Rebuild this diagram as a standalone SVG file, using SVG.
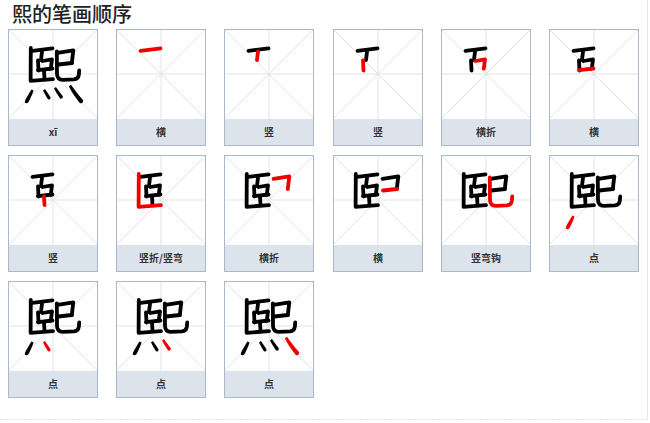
<svg xmlns="http://www.w3.org/2000/svg" xmlns:xlink="http://www.w3.org/1999/xlink" width="650" height="423" viewBox="0 0 650 423">
<style>
.title{font-family:"Noto Sans CJK SC","Noto Sans",sans-serif;font-size:20px;fill:#222;font-weight:500;}
.lbl{font-family:"Noto Sans CJK SC","Noto Sans",sans-serif;font-size:10px;fill:#333;text-anchor:middle;font-weight:700;}
.k{stroke:#000;fill:#000;}
.r{stroke:#ee0000;fill:#ee0000;}
.ln{fill:none;stroke-width:3.8;stroke-linecap:round;stroke-linejoin:round;}
.dt{stroke:none;}
</style>
<defs>
<g id="frame">
<rect x="0.5" y="0.5" width="89" height="116" fill="#fff" stroke="#a9b8cb"/>
<rect x="1" y="90" width="88" height="26" fill="#dde3ea"/>
<path d="M45,1V90 M1,45H89 M1,1L89,89 M89,1L1,89" stroke="#e3e3e3" stroke-width="1" fill="none"/>
</g>
<path id="s1" class="ln" d="M24.5,21.8 Q34,20.6 44.5,19.3"/>
<path id="s2" class="ln" d="M34,22.5 L33,31"/>
<path id="s3" class="ln" d="M30,31.5 L30.5,41.5"/>
<path id="s4" class="ln" d="M34.5,32 L44,30.3 L42.8,39.5"/>
<path id="s5" class="ln" d="M30,41.2 L44.5,39.5"/>
<path id="s6" class="ln" d="M36,41.5 L36.5,50"/>
<path id="s7" class="ln" d="M22.8,19 L22.6,51.8 L45,50.2"/>
<path id="s8" class="ln" d="M49.5,23.8 L65.3,21.3 L63.8,34"/>
<path id="s9" class="ln" d="M50,35.5 L64,34"/>
<path id="s10" class="ln" d="M48.8,22.5 L49,45 Q49.2,50.8 55,50.8 L66,50.3 Q70.2,50 70.8,46 L71.2,41.5"/>
<path id="s11" class="dt" d="M23.4,60.6 L25.6,61.6 C24.2,65.5 22.4,69.8 20.4,73.2 C19.3,75 16.2,74.4 16.9,72 C18.6,68.3 21.3,64.4 23.4,60.6 Z"/>
<path id="s12" class="dt" d="M35,61.4 L36.9,60 C38.7,62.4 40.8,65.4 42.3,67.9 C43.4,70 40.7,71.4 39.6,69.8 C38,67.1 36.4,64.1 35,61.4 Z"/>
<path id="s13" class="dt" d="M46,59.4 L47.9,58 C50,60.9 52.4,64.1 54.6,66.9 C55.7,68.9 52.9,70.6 51.8,69 C49.8,66.1 47.8,62.6 46,59.4 Z"/>
<path id="s14" class="dt" d="M60.8,57.3 L63,55.8 C66.2,60.4 70.2,65.8 74.8,70.8 C76.2,72.9 73.5,75.4 71.6,73.7 C67.8,69.2 63.8,63.1 60.8,57.3 Z"/>
<g id="c1"><use xlink:href="#s1"/></g>
<g id="c2"><use xlink:href="#c1"/><use xlink:href="#s2"/></g>
<g id="c3"><use xlink:href="#c2"/><use xlink:href="#s3"/></g>
<g id="c4"><use xlink:href="#c3"/><use xlink:href="#s4"/></g>
<g id="c5"><use xlink:href="#c4"/><use xlink:href="#s5"/></g>
<g id="c6"><use xlink:href="#c5"/><use xlink:href="#s6"/></g>
<g id="c7"><use xlink:href="#c6"/><use xlink:href="#s7"/></g>
<g id="c8"><use xlink:href="#c7"/><use xlink:href="#s8"/></g>
<g id="c9"><use xlink:href="#c8"/><use xlink:href="#s9"/></g>
<g id="c10"><use xlink:href="#c9"/><use xlink:href="#s10"/></g>
<g id="c11"><use xlink:href="#c10"/><use xlink:href="#s11"/></g>
<g id="c12"><use xlink:href="#c11"/><use xlink:href="#s12"/></g>
<g id="c13"><use xlink:href="#c12"/><use xlink:href="#s13"/></g>
<g id="c14"><use xlink:href="#c13"/><use xlink:href="#s14"/></g>
</defs>
<rect width="650" height="423" fill="#fff"/>
<text class="title" x="12" y="21.5">熙的笔画顺序</text>
<g id="card-0" transform="translate(8,29)"><use xlink:href="#frame"/><use xlink:href="#c14" class="k"/><text class="lbl" x="45" y="107">xī</text></g>
<g id="card-1" transform="translate(116,29)"><use xlink:href="#frame"/><use xlink:href="#s1" class="r"/><text class="lbl" x="45" y="107">横</text></g>
<g id="card-2" transform="translate(224,29)"><use xlink:href="#frame"/><use xlink:href="#c1" class="k"/><use xlink:href="#s2" class="r"/><text class="lbl" x="45" y="107">竖</text></g>
<g id="card-3" transform="translate(333,29)"><use xlink:href="#frame"/><use xlink:href="#c2" class="k"/><use xlink:href="#s3" class="r"/><text class="lbl" x="45" y="107">竖</text></g>
<g id="card-4" transform="translate(441,29)"><use xlink:href="#frame"/><use xlink:href="#c3" class="k"/><use xlink:href="#s4" class="r"/><text class="lbl" x="45" y="107">横折</text></g>
<g id="card-5" transform="translate(549,29)"><use xlink:href="#frame"/><use xlink:href="#c4" class="k"/><use xlink:href="#s5" class="r"/><text class="lbl" x="45" y="107">横</text></g>
<g id="card-6" transform="translate(8,155)"><use xlink:href="#frame"/><use xlink:href="#c5" class="k"/><use xlink:href="#s6" class="r"/><text class="lbl" x="45" y="107">竖</text></g>
<g id="card-7" transform="translate(116,155)"><use xlink:href="#frame"/><use xlink:href="#c6" class="k"/><use xlink:href="#s7" class="r"/><text class="lbl" x="45" y="107">竖折/竖弯</text></g>
<g id="card-8" transform="translate(224,155)"><use xlink:href="#frame"/><use xlink:href="#c7" class="k"/><use xlink:href="#s8" class="r"/><text class="lbl" x="45" y="107">横折</text></g>
<g id="card-9" transform="translate(333,155)"><use xlink:href="#frame"/><use xlink:href="#c8" class="k"/><use xlink:href="#s9" class="r"/><text class="lbl" x="45" y="107">横</text></g>
<g id="card-10" transform="translate(441,155)"><use xlink:href="#frame"/><use xlink:href="#c9" class="k"/><use xlink:href="#s10" class="r"/><text class="lbl" x="45" y="107">竖弯钩</text></g>
<g id="card-11" transform="translate(549,155)"><use xlink:href="#frame"/><use xlink:href="#c10" class="k"/><use xlink:href="#s11" class="r"/><text class="lbl" x="45" y="107">点</text></g>
<g id="card-12" transform="translate(8,281)"><use xlink:href="#frame"/><use xlink:href="#c11" class="k"/><use xlink:href="#s12" class="r"/><text class="lbl" x="45" y="107">点</text></g>
<g id="card-13" transform="translate(116,281)"><use xlink:href="#frame"/><use xlink:href="#c12" class="k"/><use xlink:href="#s13" class="r"/><text class="lbl" x="45" y="107">点</text></g>
<g id="card-14" transform="translate(224,281)"><use xlink:href="#frame"/><use xlink:href="#c13" class="k"/><use xlink:href="#s14" class="r"/><text class="lbl" x="45" y="107">点</text></g>
<g id="page-edges">
<line x1="0" y1="419.5" x2="648" y2="419.5" stroke="#e2e2e2" stroke-dasharray="2,1"/>
<line x1="647.5" y1="0" x2="647.5" y2="420" stroke="#e8e8e8"/>
</g>
</svg>
